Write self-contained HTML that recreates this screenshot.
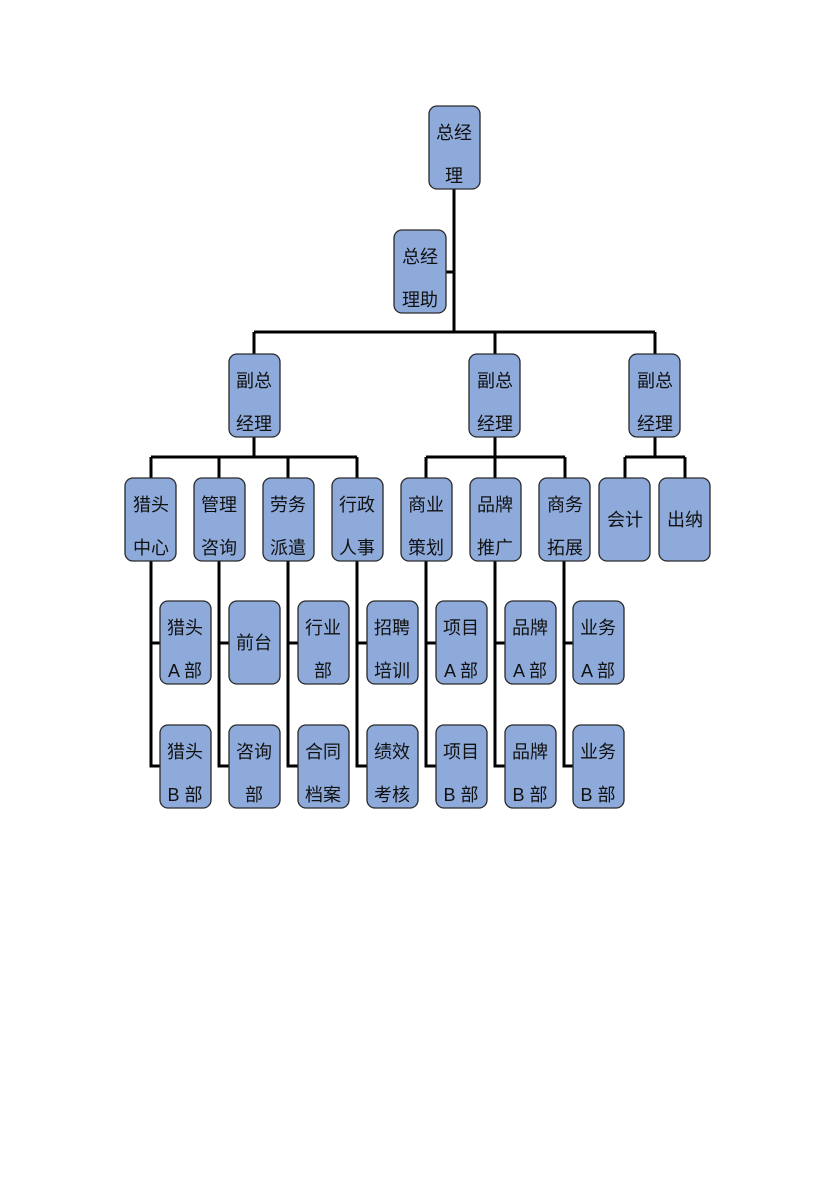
<!DOCTYPE html>
<html><head><meta charset="utf-8"><style>
html,body{margin:0;padding:0;background:#fff;}
svg text{font-family:"Liberation Sans","Noto Sans CJK SC",sans-serif;font-size:18px;fill:#111;text-anchor:middle;}
</style></head><body>
<svg width="830" height="1173" xmlns="http://www.w3.org/2000/svg">
<g stroke="#000" stroke-width="3" fill="none">
<path d="M454 189V332M446 272H454M254 332H655M254 332V354M495 332V354M655 332V354"/>
<path d="M254 437V457M151 457H357M151 457V478M219 457V478M288 457V478M357 457V478"/>
<path d="M495 437V457M426 457H565M426 457V478M495 457V478M565 457V478"/>
<path d="M655 437V457M625 457H685M625 457V478M685 457V478"/>
<path d="M151 561V766H160M151 643H160"/>
<path d="M219 561V766H229M219 643H229"/>
<path d="M288 561V766H298M288 643H298"/>
<path d="M357 561V766H367M357 643H367"/>
<path d="M426 561V766H436M426 643H436"/>
<path d="M495 561V766H505M495 643H505"/>
<path d="M564 561V766H573M564 643H573"/>
</g>
<g fill="#8eaadb" stroke="#2a2a2a" stroke-width="1.3">
<rect x="429" y="106" width="51" height="83" rx="8"/>
<rect x="394" y="230" width="52" height="83" rx="8"/>
<rect x="229" y="354" width="51" height="83" rx="8"/>
<rect x="469" y="354" width="51" height="83" rx="8"/>
<rect x="629" y="354" width="51" height="83" rx="8"/>
<rect x="125" y="478" width="51" height="83" rx="8"/>
<rect x="194" y="478" width="51" height="83" rx="8"/>
<rect x="263" y="478" width="51" height="83" rx="8"/>
<rect x="332" y="478" width="51" height="83" rx="8"/>
<rect x="401" y="478" width="51" height="83" rx="8"/>
<rect x="470" y="478" width="51" height="83" rx="8"/>
<rect x="539" y="478" width="51" height="83" rx="8"/>
<rect x="599" y="478" width="51" height="83" rx="8"/>
<rect x="659" y="478" width="51" height="83" rx="8"/>
<rect x="160" y="601" width="51" height="83" rx="8"/>
<rect x="229" y="601" width="51" height="83" rx="8"/>
<rect x="298" y="601" width="51" height="83" rx="8"/>
<rect x="367" y="601" width="51" height="83" rx="8"/>
<rect x="436" y="601" width="51" height="83" rx="8"/>
<rect x="505" y="601" width="51" height="83" rx="8"/>
<rect x="573" y="601" width="51" height="83" rx="8"/>
<rect x="160" y="725" width="51" height="83" rx="8"/>
<rect x="229" y="725" width="51" height="83" rx="8"/>
<rect x="298" y="725" width="51" height="83" rx="8"/>
<rect x="367" y="725" width="51" height="83" rx="8"/>
<rect x="436" y="725" width="51" height="83" rx="8"/>
<rect x="505" y="725" width="51" height="83" rx="8"/>
<rect x="573" y="725" width="51" height="83" rx="8"/>
</g>
<g>
<text x="454" y="139">总经</text><text x="454" y="182">理</text>
<text x="420" y="263">总经</text><text x="420" y="306">理助</text>
<text x="254" y="387">副总</text><text x="254" y="430">经理</text>
<text x="495" y="387">副总</text><text x="495" y="430">经理</text>
<text x="655" y="387">副总</text><text x="655" y="430">经理</text>
<text x="151" y="511">猎头</text><text x="151" y="554">中心</text>
<text x="219" y="511">管理</text><text x="219" y="554">咨询</text>
<text x="288" y="511">劳务</text><text x="288" y="554">派遣</text>
<text x="357" y="511">行政</text><text x="357" y="554">人事</text>
<text x="426" y="511">商业</text><text x="426" y="554">策划</text>
<text x="495" y="511">品牌</text><text x="495" y="554">推广</text>
<text x="565" y="511">商务</text><text x="565" y="554">拓展</text>
<text x="625" y="526">会计</text>
<text x="685" y="526">出纳</text>
<text x="185" y="634">猎头</text><text x="185" y="677">A 部</text>
<text x="254" y="649">前台</text>
<text x="323" y="634">行业</text><text x="323" y="677">部</text>
<text x="392" y="634">招聘</text><text x="392" y="677">培训</text>
<text x="461" y="634">项目</text><text x="461" y="677">A 部</text>
<text x="530" y="634">品牌</text><text x="530" y="677">A 部</text>
<text x="598" y="634">业务</text><text x="598" y="677">A 部</text>
<text x="185" y="758">猎头</text><text x="185" y="801">B 部</text>
<text x="254" y="758">咨询</text><text x="254" y="801">部</text>
<text x="323" y="758">合同</text><text x="323" y="801">档案</text>
<text x="392" y="758">绩效</text><text x="392" y="801">考核</text>
<text x="461" y="758">项目</text><text x="461" y="801">B 部</text>
<text x="530" y="758">品牌</text><text x="530" y="801">B 部</text>
<text x="598" y="758">业务</text><text x="598" y="801">B 部</text>
</g>
</svg>
</body></html>
